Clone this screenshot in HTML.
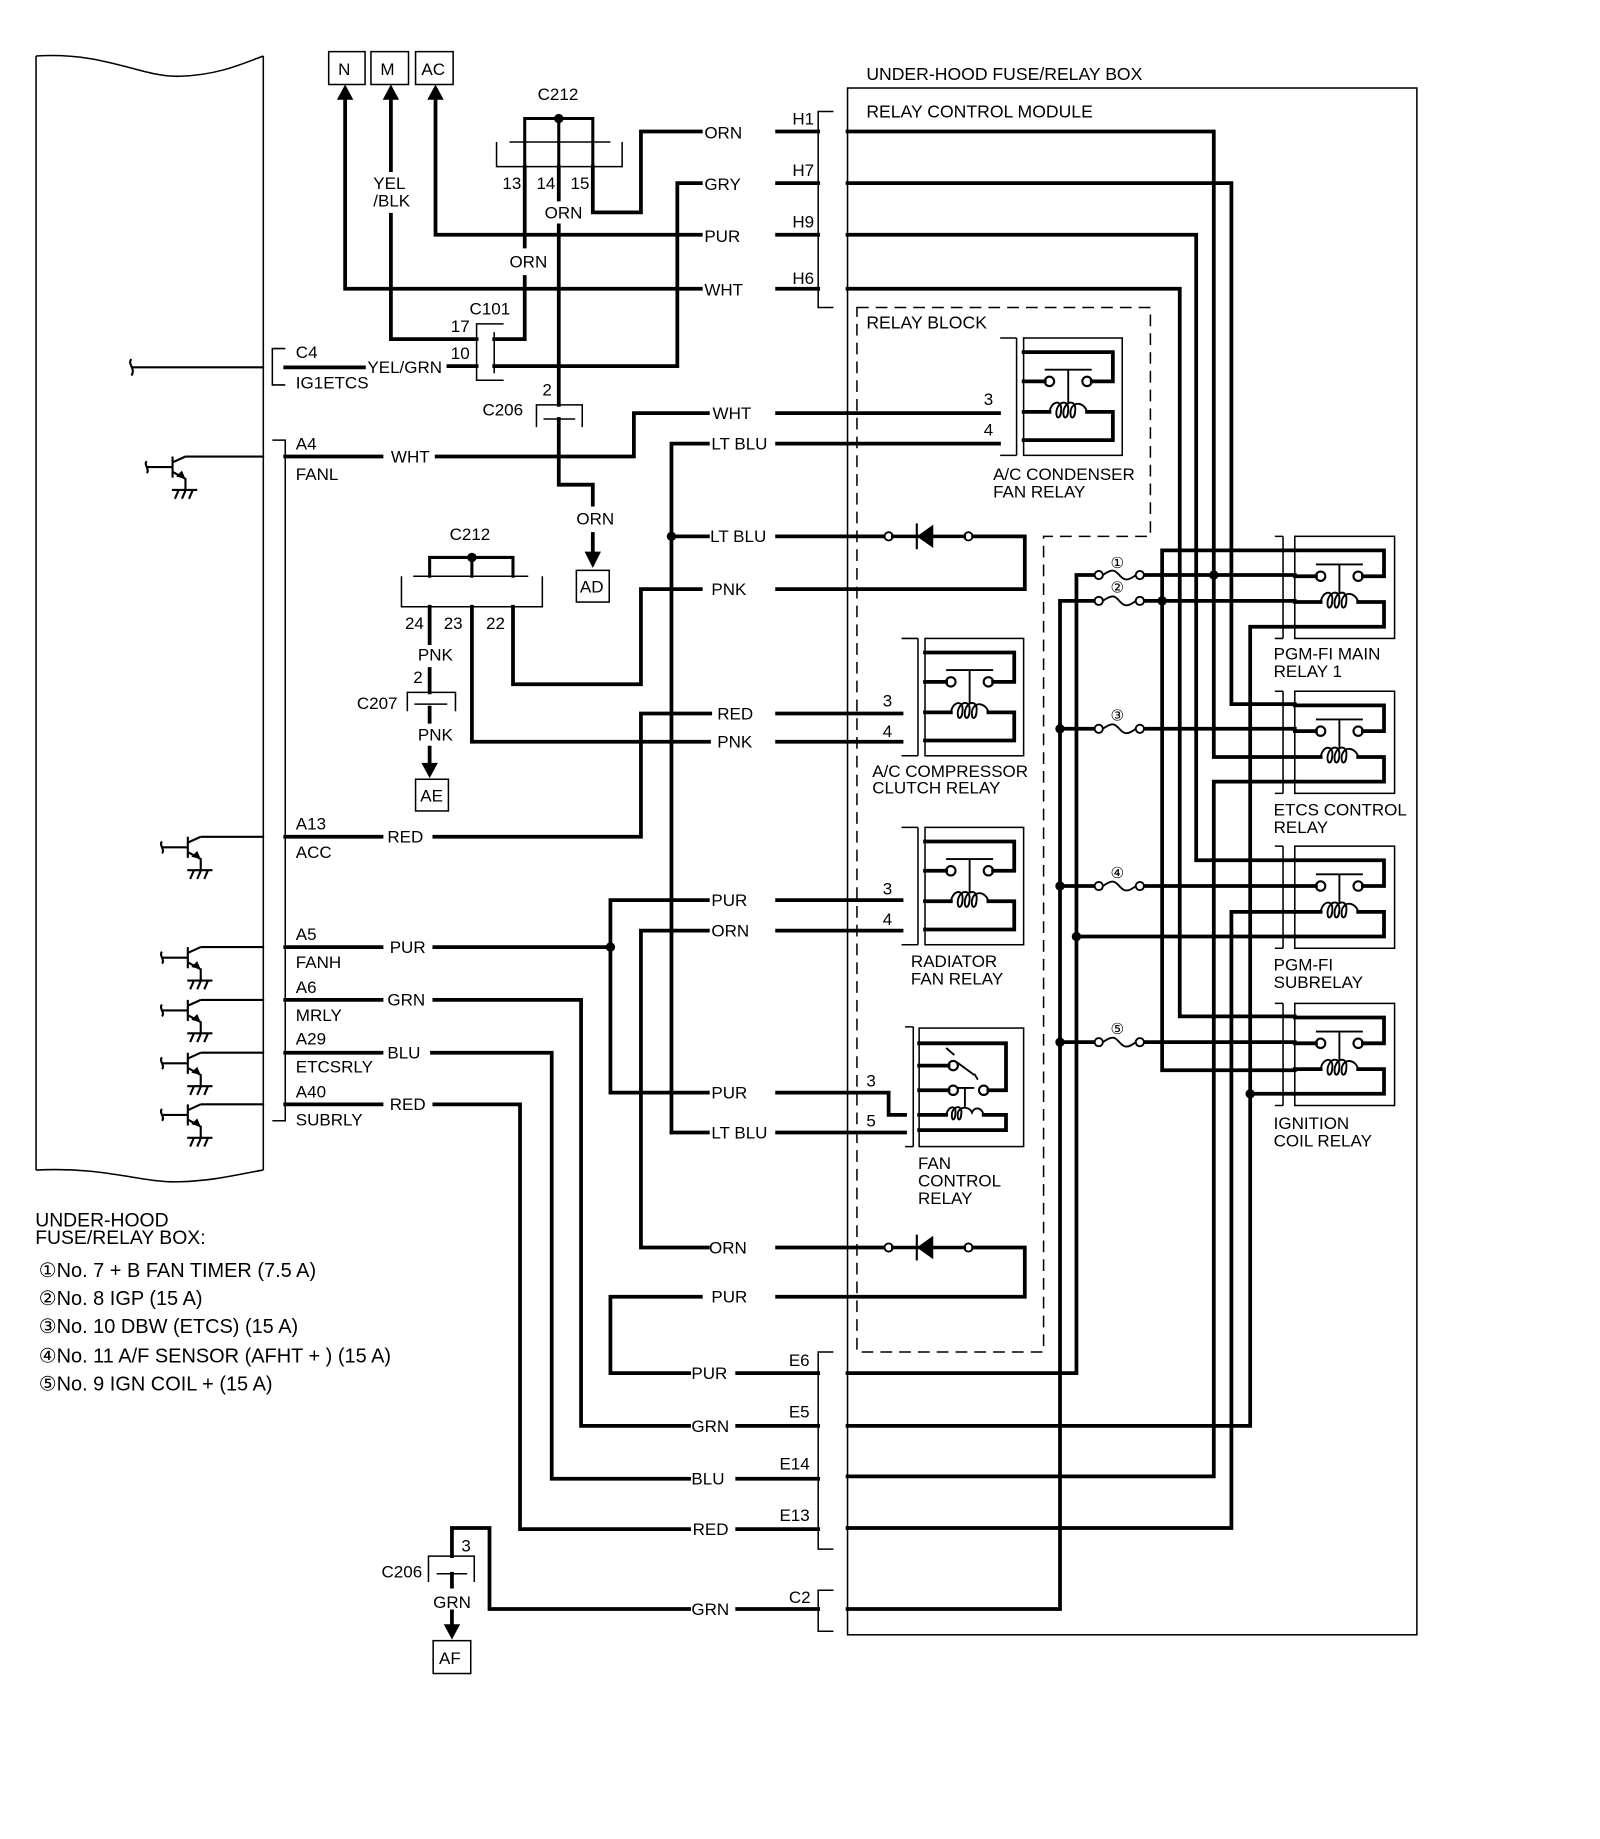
<!DOCTYPE html>
<html><head><meta charset="utf-8"><style>
html,body{margin:0;padding:0;background:#fff;}
svg{display:block;}
text{font-family:"Liberation Sans",Arial,sans-serif;font-size:14.5px;fill:#000;}
text.n{font-size:17px;}
text.h{font-size:16.5px;}
text.c{font-family:"DejaVu Sans",sans-serif;font-size:13px;}
.w{stroke:#000;stroke-width:3.2;fill:none;stroke-linejoin:miter;stroke-linecap:square;}
.t{stroke:#000;stroke-width:1.3;fill:none;}
</style></head><body>
<svg width="1600" height="1839" viewBox="0 0 1363 1567" preserveAspectRatio="none" xmlns="http://www.w3.org/2000/svg">
<defs>
<g id="relay">
  <path class="t" d="M14,0V100M0,0H14M0,100H14"/>
  <rect class="t" x="20" y="0" width="84" height="100"/>
  <path class="w" d="M20,12H96V37H78M20,37H38M20,63H42M74,63H96V87H20"/>
  <circle class="t" cx="42" cy="37" r="4" style="stroke-width:1.8"/>
  <circle class="t" cx="74" cy="37" r="4" style="stroke-width:1.8"/>
  <path class="t" d="M38,27H78M58,27V56" style="stroke-width:1.6"/>
  <path class="t" d="M42,63C44,53 52,53 52,60C52,70 47,70 48,62C50,53 58,53 58,60C58,70 53,70 54,62C56,53 64,53 64,60C64,70 59,70 60,62C62,53 72,55 74,63" style="stroke-width:1.6"/>
</g>
<g id="rrelay">
  <path class="t" d="M10,0V87M3,0H10M3,87H10"/>
  <rect class="t" x="20" y="0" width="85" height="87"/>
  <path class="w" d="M20,12H96V34H78M20,34H38M20,56H42M74,56H96V77H20"/>
  <circle class="t" cx="42" cy="34" r="4" style="stroke-width:1.8"/>
  <circle class="t" cx="74" cy="34" r="4" style="stroke-width:1.8"/>
  <path class="t" d="M38,24H78M58,24V49" style="stroke-width:1.6"/>
  <path class="t" d="M42,56C44,46 52,46 52,53C52,63 47,63 48,55C50,46 58,46 58,53C58,63 53,63 54,55C56,46 64,46 64,53C64,63 59,63 60,55C62,46 72,48 74,56" style="stroke-width:1.6"/>
</g>
<g id="fuse">
  <circle class="t" cx="0" cy="0" r="3.5" style="stroke-width:1.6;fill:#fff"/>
  <circle class="t" cx="35" cy="0" r="3.5" style="stroke-width:1.6;fill:#fff"/>
  <path class="t" d="M3.5,0C12,-6 14,-4 17.5,0S24,6 31.5,0" style="stroke-width:1.6"/>
</g>
<g id="diode">
  <circle class="t" cx="0" cy="0" r="3.5" style="stroke-width:1.6;fill:#fff"/>
  <circle class="t" cx="68" cy="0" r="3.5" style="stroke-width:1.6;fill:#fff"/>
  <path class="w" d="M3.5,0H64.5" style="stroke-width:3"/>
  <polygon points="24,0 38,-10 38,10" fill="#000"/>
  <path class="t" d="M24,-11V11" style="stroke-width:1.8"/>
</g>
<g id="tr">
  <path class="t" d="M0,0V18M0,9H-22M-22,4C-25,7 -19,11 -22,14" style="stroke-width:1.8"/>
  <path class="t" d="M0,5L11,0M0,13L11,19V28.5M-0.5,28.5H21M2,36L5,29M8,36L11,29M14,36L17,29" style="stroke-width:1.8"/>
  <polygon points="11,19 3,17 8,12" fill="#000"/>
</g>
</defs>

<!-- ECM -->
<path class="t" d="M30.7,47.7C90,44 120,66 153,65C185,64 205,55 224.3,47.7"/>
<path class="t" d="M30.7,997C90,994 120,1008 153,1007C185,1006 205,1000 224.3,997"/>
<path class="t" d="M30.7,47.7V997M224.3,47.7V997"/>
<path class="t" d="M243,297H232V328H243"/>
<path class="t" d="M232,375H243V955H232"/>
<text x="252" y="305">C4</text><text x="252" y="331">IG1ETCS</text>
<text x="252" y="383">A4</text><text x="252" y="409">FANL</text>
<text x="252" y="707">A13</text><text x="252" y="731">ACC</text>
<text x="252" y="801">A5</text><text x="252" y="825">FANH</text>
<text x="252" y="846">A6</text><text x="252" y="870">MRLY</text>
<text x="252" y="890">A29</text><text x="252" y="914">ETCSRLY</text>
<text x="252" y="935">A40</text><text x="252" y="959">SUBRLY</text>

<g transform="translate(147,389)"><use href="#tr"/><path class="t" d="M11,0H78" style="stroke-width:1.8"/></g>
<g transform="translate(160,713)"><use href="#tr"/><path class="t" d="M11,0H65" style="stroke-width:1.8"/></g>
<g transform="translate(160,807)"><use href="#tr"/><path class="t" d="M11,0H65" style="stroke-width:1.8"/></g>
<g transform="translate(160,852)"><use href="#tr"/><path class="t" d="M11,0H65" style="stroke-width:1.8"/></g>
<g transform="translate(160,897)"><use href="#tr"/><path class="t" d="M11,0H65" style="stroke-width:1.8"/></g>
<g transform="translate(160,941)"><use href="#tr"/><path class="t" d="M11,0H65" style="stroke-width:1.8"/></g>
<path class="t" d="M112,313H225M112,306C108,310 116,314 112,320" style="stroke-width:1.8"/>

<!-- N M AC -->
<rect class="t" x="280" y="44" width="31" height="28"/><text x="288" y="64">N</text>
<rect class="t" x="316" y="44" width="32" height="28"/><text x="324" y="64">M</text>
<rect class="t" x="354" y="44" width="32" height="28"/><text x="359" y="64">AC</text>
<polygon points="287,85 301,85 294,72" fill="#000"/>
<polygon points="326,85 340,85 333,72" fill="#000"/>
<polygon points="364,85 378,85 371,72" fill="#000"/>
<path class="w" d="M294,85V246H597M662,246H697"/>
<text x="600" y="252">WHT</text>
<path class="w" d="M333,85V145M333,183V289H406"/>
<text x="318" y="161">YEL</text><text x="318" y="176">/BLK</text>
<path class="w" d="M371,85V200H597M662,200H697"/>
<text x="600" y="206">PUR</text>

<!-- C212 top -->
<text x="458" y="85">C212</text>
<path class="w" d="M447,142V101H505V142M476,101V142" style="stroke-width:2.6"/>
<circle cx="476" cy="101" r="4" fill="#000"/>
<path class="t" d="M434,121H520M423,121V142H530V121"/>
<text x="428" y="161">13</text><text x="457" y="161">14</text><text x="486" y="161">15</text>
<path class="w" d="M447,142V210M447,236V289H421"/>
<text x="434" y="228">ORN</text>
<path class="w" d="M505,142V181H546V112H597M662,112H697"/>
<text x="600" y="118">ORN</text>
<path class="w" d="M476,142V170M476,192V345M476,357V413H505V430M505,455V470"/>
<polygon points="498,470 512,470 505,484" fill="#000"/>
<text x="464" y="186">ORN</text>
<text x="491" y="447">ORN</text>
<rect class="t" x="491" y="486" width="28" height="27"/><text x="494" y="505">AD</text>

<!-- C101 -->
<text x="400" y="268">C101</text>
<text x="384" y="283">17</text><text x="384" y="306">10</text>
<path class="t" d="M429,276H406V324H429M421,283V318"/>
<path class="w" d="M243,313H310M382,312H406M421,312H577V156H597M662,156H697"/>
<text x="313" y="318">YEL/GRN</text>
<text x="600" y="162">GRY</text>

<text x="462" y="337">2</text>
<text x="411" y="354">C206</text>
<path class="t" d="M457,364V345H496V364M463,357H490"/>

<!-- FANL -->
<path class="w" d="M243,389H325M372,389H540V352H603M662,352H851"/>
<text x="333" y="394">WHT</text><text x="607" y="357">WHT</text>
<text x="838" y="345">3</text><text x="838" y="371">4</text>
<path class="w" d="M572,378H603M662,378H851M572,378V965"/>
<text x="606" y="383">LT BLU</text>
<circle cx="572" cy="457" r="4" fill="#000"/>
<path class="w" d="M572,457H603M662,457H753"/>
<text x="605" y="462">LT BLU</text>
<use href="#diode" x="757" y="457"/>
<path class="w" d="M829,457H873V502H662M597,502H546V583H437V517"/>
<text x="606" y="507">PNK</text>

<!-- C212 second -->
<text x="383" y="460">C212</text>
<path class="w" d="M366,491V475H437V491M402,475V491" style="stroke-width:2.6"/>
<circle cx="402" cy="475" r="4" fill="#000"/>
<path class="t" d="M352,491H450M342,491V517H462V491"/>
<text x="345" y="536">24</text><text x="378" y="536">23</text><text x="414" y="536">22</text>
<path class="w" d="M366,517V548M366,570V590M366,603V615M366,637V650"/>
<polygon points="359,650 373,650 366,663" fill="#000"/>
<text x="356" y="563">PNK</text><text x="356" y="631">PNK</text>
<text x="352" y="582">2</text><text x="304" y="604">C207</text>
<path class="t" d="M347,606V590H388V606M353,600H381"/>
<rect class="t" x="354" y="664" width="28" height="27"/><text x="358" y="683">AE</text>
<path class="w" d="M402,517V632H604M662,632H768"/>
<text x="611" y="637">PNK</text>
<path class="w" d="M243,713H325M370,713H546V608H605M662,608H768"/>
<text x="330" y="718">RED</text><text x="611" y="613">RED</text>
<text x="752" y="602">3</text><text x="752" y="628">4</text>

<!-- A5 / radiator -->
<path class="w" d="M243,807H325M370,807H520V767H603M662,767H768M520,807V931H603M662,931H757V950H771"/>
<circle cx="520" cy="807" r="4" fill="#000"/>
<text x="332" y="812">PUR</text><text x="606" y="772">PUR</text><text x="606" y="936">PUR</text>
<text x="752" y="762">3</text><text x="752" y="788">4</text>
<path class="w" d="M546,793H603M662,793H768M546,793V1063H603M662,1063H753"/>
<text x="606" y="798">ORN</text><text x="604" y="1068">ORN</text>
<use href="#diode" x="757" y="1063"/>
<path class="w" d="M829,1063H873V1105H662M597,1105H520V1170H587M628,1170H697"/>
<text x="606" y="1110">PUR</text><text x="589" y="1175">PUR</text>
<path class="w" d="M572,965H603M662,965H771"/>
<text x="606" y="970">LT BLU</text>
<text x="738" y="926">3</text><text x="738" y="960">5</text>

<path class="w" d="M243,852H325M370,852H495V1215H587M628,1215H697"/>
<text x="330" y="857">GRN</text><text x="589" y="1220">GRN</text>
<path class="w" d="M243,897H325M368,897H470V1260H587M628,1260H697"/>
<text x="330" y="902">BLU</text><text x="589" y="1265">BLU</text>
<path class="w" d="M243,941H325M370,941H443V1303H587M628,1303H697"/>
<text x="332" y="946">RED</text><text x="590" y="1308">RED</text>

<!-- C206 bottom -->
<path class="w" d="M385,1326V1302H417V1371H587M628,1371H697"/>
<text x="589" y="1376">GRN</text>
<path class="t" d="M365,1348V1326H404V1348M372,1341H398"/>
<text x="393" y="1322">3</text><text x="325" y="1344">C206</text>
<path class="w" d="M385,1341V1352M385,1373V1384"/>
<polygon points="378,1384 392,1384 385,1397" fill="#000"/>
<text x="369" y="1370">GRN</text>
<rect class="t" x="369" y="1398" width="32" height="28"/><text x="374" y="1418">AF</text>

<!-- connectors -->
<path class="t" d="M710,95H697V262H710"/>
<text x="675" y="106">H1</text><text x="675" y="150">H7</text><text x="675" y="194">H9</text><text x="675" y="242">H6</text>
<path class="t" d="M710,1152H697V1320H710"/>
<text x="672" y="1164">E6</text><text x="672" y="1208">E5</text><text x="664" y="1252">E14</text><text x="664" y="1296">E13</text>
<path class="t" d="M710,1355H697V1390H710"/>
<text x="672" y="1366">C2</text>

<rect class="t" x="722" y="75" width="485" height="1318"/>
<text x="738" y="68" style="font-size:15px">UNDER-HOOD FUSE/RELAY BOX</text>
<text x="738" y="100" style="font-size:15px">RELAY CONTROL MODULE</text>
<path class="t" d="M730,262H980V457H889V1152H730Z" stroke-dasharray="10,6"/>
<text x="738" y="280" style="font-size:15px">RELAY BLOCK</text>

<use href="#relay" x="852" y="288"/>
<text x="846" y="409">A/C CONDENSER</text><text x="846" y="424">FAN RELAY</text>
<use href="#relay" x="768" y="544"/>
<text x="743" y="662">A/C COMPRESSOR</text><text x="743" y="676">CLUTCH RELAY</text>
<use href="#relay" x="768" y="705"/>
<text x="776" y="824">RADIATOR</text><text x="776" y="839">FAN RELAY</text>
<g>
<path class="t" d="M778,875V977M771,875H778M771,977H778"/>
<rect class="t" x="783" y="876" width="89" height="101"/>
<path class="w" d="M783,889H857V929H842M783,908H808M783,929H808M783,950H806M838,950H857V963H783"/>
<circle class="t" cx="812" cy="908" r="4" style="stroke-width:1.8"/>
<circle class="t" cx="812" cy="929" r="4" style="stroke-width:1.8"/>
<circle class="t" cx="838" cy="929" r="4" style="stroke-width:1.8"/>
<path class="t" d="M815,905L830,916M813,899L806,893M833,920L830,915M815,927H830M822,927V943" style="stroke-width:1.6"/>
<path class="t" d="M806,950C808,942 814,942 814,947C814,956 810,956 811,948C813,942 819,942 819,947C819,956 815,956 816,948C818,942 826,943 828,948C830,943 836,943 838,950" style="stroke-width:1.6"/>
</g>
<text x="782" y="996">FAN</text><text x="782" y="1011">CONTROL</text><text x="782" y="1026">RELAY</text>

<!-- right relays -->
<use href="#rrelay" x="1083" y="457"/>
<text x="1085" y="562">PGM-FI MAIN</text><text x="1085" y="577">RELAY 1</text>
<use href="#rrelay" x="1083" y="589"/>
<text x="1085" y="695">ETCS CONTROL</text><text x="1085" y="710">RELAY</text>
<use href="#rrelay" x="1083" y="721"/>
<text x="1085" y="827">PGM-FI</text><text x="1085" y="842">SUBRELAY</text>
<use href="#rrelay" x="1083" y="855"/>
<text x="1085" y="962">IGNITION</text><text x="1085" y="977">COIL RELAY</text>

<!-- right wiring -->
<path class="w" d="M722,112H1034V645H1103"/>
<path class="w" d="M722,156H1049V600H1103"/>
<path class="w" d="M722,200H1019V733H1103"/>
<path class="w" d="M722,246H1005V866H1103"/>
<path class="w" d="M990,469H1103M990,469V912H1103"/>
<path class="w" d="M917,490H932M971,490H1103M917,490V1170H722"/>
<path class="w" d="M903,512H932M971,512H1103M903,512V1371H722"/>
<path class="w" d="M1065,534H1103M1065,534V1215H722M1065,932H1103"/>
<path class="w" d="M1034,666H1103M1034,666V1258H722"/>
<path class="w" d="M1049,777H1103M1049,777V1302H722"/>
<path class="w" d="M917,798H1103"/>
<path class="w" d="M903,621H932M971,621H1103M903,755H932M971,755H1103M903,888H932M971,888H1103"/>
<use href="#fuse" x="936" y="490"/><use href="#fuse" x="936" y="512"/>
<use href="#fuse" x="936" y="621"/><use href="#fuse" x="936" y="755"/><use href="#fuse" x="936" y="888"/>
<text class="c" x="946" y="484">①</text><text class="c" x="946" y="505">②</text><text class="c" x="946" y="614">③</text>
<text class="c" x="946" y="748">④</text><text class="c" x="946" y="881">⑤</text>
<circle cx="1034" cy="490" r="4" fill="#000"/>
<circle cx="990" cy="512" r="4" fill="#000"/>
<circle cx="903" cy="621" r="4" fill="#000"/>
<circle cx="903" cy="755" r="4" fill="#000"/>
<circle cx="903" cy="888" r="4" fill="#000"/>
<circle cx="917" cy="798" r="4" fill="#000"/>
<circle cx="1065" cy="932" r="4" fill="#000"/>

<!-- notes -->
<text class="h" x="30" y="1045">UNDER-HOOD</text>
<text class="h" x="30" y="1060">FUSE/RELAY BOX:</text>
<text class="n" x="33" y="1088"><tspan style="font-family:'DejaVu Sans',sans-serif">①</tspan>No. 7  + B FAN TIMER (7.5 A)</text>
<text class="n" x="33" y="1112"><tspan style="font-family:'DejaVu Sans',sans-serif">②</tspan>No. 8 IGP (15 A)</text>
<text class="n" x="33" y="1136"><tspan style="font-family:'DejaVu Sans',sans-serif">③</tspan>No. 10 DBW (ETCS) (15 A)</text>
<text class="n" x="33" y="1161"><tspan style="font-family:'DejaVu Sans',sans-serif">④</tspan>No. 11 A/F SENSOR (AFHT + ) (15 A)</text>
<text class="n" x="33" y="1185"><tspan style="font-family:'DejaVu Sans',sans-serif">⑤</tspan>No. 9 IGN COIL +  (15 A)</text>
</svg>
</body></html>
